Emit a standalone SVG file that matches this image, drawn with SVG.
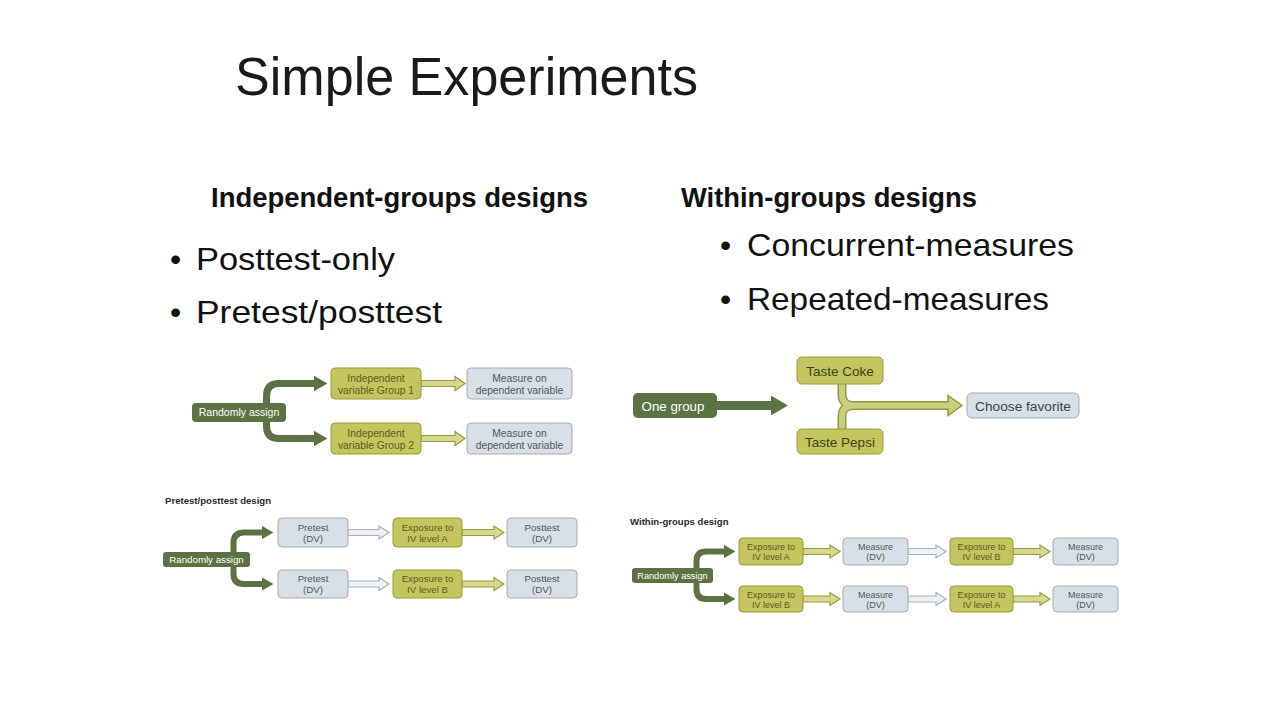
<svg xmlns="http://www.w3.org/2000/svg" width="1280" height="720" viewBox="0 0 1280 720">
<style>
  .sans { font-family: "Liberation Sans", Arial, sans-serif; }
  .title { font-size: 54px; fill: #1a1a1a; }
  .head { font-size: 28px; font-weight: bold; fill: #111; }
  .bul { font-size: 32px; fill: #111; }
  .dg { fill: #5b7342; }
  .ol { fill: #c4c55e; stroke: #969b3a; stroke-width: 1; }
  .bl { fill: #d6e0e6; stroke: #a3adb3; stroke-width: 1; }
  .tw { fill: #ffffff; }
  .to { fill: #5c5b22; }
  .tb { fill: #50565a; }
  .ha-o { fill: #d4d98f; stroke: #939c3e; stroke-width: 1.2; }
  .ha-g { fill: #eef1f3; stroke: #a7b0b6; stroke-width: 1.2; }
  .br { fill: none; stroke: #5b7342; marker-end: url(#ah); }
  .cap { font-size: 9.6px; font-weight: bold; fill: #2a2a2a; }
</style>
<defs>
  <marker id="ah" viewBox="0 0 1.9 2.2" refX="0" refY="1.1" markerWidth="1.9" markerHeight="2.2" orient="auto">
    <path d="M0,0 L1.9,1.1 L0,2.2 Z" fill="#5b7342"/>
  </marker>
</defs>
<rect width="1280" height="720" fill="#ffffff"/>

<g id="slide-text" class="sans">
  <text class="title" x="235" y="95" textLength="463" lengthAdjust="spacingAndGlyphs">Simple Experiments</text>
  <text class="head" x="211" y="207" textLength="377" lengthAdjust="spacingAndGlyphs">Independent-groups designs</text>
  <text class="head" x="681" y="207" textLength="296" lengthAdjust="spacingAndGlyphs">Within-groups designs</text>
  <text class="bul" x="170" y="270">•</text>
  <text class="bul" x="196" y="270" textLength="199" lengthAdjust="spacingAndGlyphs">Posttest-only</text>
  <text class="bul" x="170" y="323">•</text>
  <text class="bul" x="196" y="323" textLength="246" lengthAdjust="spacingAndGlyphs">Pretest/posttest</text>
  <text class="bul" x="720" y="256">•</text>
  <text class="bul" x="747" y="256" textLength="327" lengthAdjust="spacingAndGlyphs">Concurrent-measures</text>
  <text class="bul" x="720" y="310">•</text>
  <text class="bul" x="747" y="310" textLength="302" lengthAdjust="spacingAndGlyphs">Repeated-measures</text>
</g>

<g id="connectors">
  <!-- Diagram 1: posttest-only -->
  <path class="br" stroke-width="7" d="M266.5,403 V396 Q266.5,383.5 279,383.5 H314"/>
  <path class="br" stroke-width="7" d="M266.5,422 V426 Q266.5,438.5 279,438.5 H314"/>
  <polygon class="ha-o" points="421,380.5 455,380.5 455,376.5 465,383.5 455,390.5 455,386.5 421,386.5"/>
  <polygon class="ha-o" points="421,435.5 455,435.5 455,431.5 465,438.5 455,445.5 455,441.5 421,441.5"/>

  <!-- Diagram 2: concurrent measures -->
  <path class="br" stroke-width="9" d="M717,405.5 H771"/>
  <path fill="none" stroke="#8f9a3a" stroke-width="9" d="M842,384 V394 Q842,405.5 853.5,405.5 H950 M842,429 V417 Q842,405.5 853.5,405.5"/>
  <polygon points="948,395.5 962,405.5 948,415.5" fill="#c9cf7e" stroke="#8f9a3a" stroke-width="1.5"/>
  <path fill="none" stroke="#c9cf7e" stroke-width="6" d="M842,383 V394 Q842,405.5 853.5,405.5 H950 M842,430 V417 Q842,405.5 853.5,405.5"/>

  <!-- Diagram 3: pretest/posttest -->
  <path class="br" stroke-width="6" d="M233.5,552 V543 Q233.5,532.5 244,532.5 H262"/>
  <path class="br" stroke-width="6" d="M233.5,567 V574 Q233.5,584 244,584 H262"/>
  <polygon class="ha-g" points="348,529.5 379,529.5 379,526 389,532.5 379,539 379,535.5 348,535.5"/>
  <polygon class="ha-g" points="348,581 379,581 379,577.5 389,584 379,590.5 379,587 348,587"/>
  <polygon class="ha-o" points="462,529.5 494,529.5 494,526 504,532.5 494,539 494,535.5 462,535.5"/>
  <polygon class="ha-o" points="462,581 494,581 494,577.5 504,584 494,590.5 494,587 462,587"/>

  <!-- Diagram 4: repeated measures -->
  <path class="br" stroke-width="6" d="M696.5,568 V561 Q696.5,551.5 706,551.5 H724"/>
  <path class="br" stroke-width="6" d="M696.5,583 V589 Q696.5,599 706,599 H724"/>
  <polygon class="ha-o" points="803,548.5 830,548.5 830,545 840,551.5 830,558 830,554.5 803,554.5"/>
  <polygon class="ha-g" points="908,548.5 936,548.5 936,545 946,551.5 936,558 936,554.5 908,554.5"/>
  <polygon class="ha-o" points="1013,548.5 1040,548.5 1040,545 1050,551.5 1040,558 1040,554.5 1013,554.5"/>
  <polygon class="ha-o" points="803,596 830,596 830,592.5 840,599 830,605.5 830,602 803,602"/>
  <polygon class="ha-g" points="908,596 936,596 936,592.5 946,599 936,605.5 936,602 908,602"/>
  <polygon class="ha-o" points="1013,596 1040,596 1040,592.5 1050,599 1040,605.5 1040,602 1013,602"/>
</g>

<!-- Diagram 1 nodes -->
<g id="d1-random" class="sans">
  <rect class="dg" x="192" y="403" width="94" height="19" rx="4"/>
  <text class="tw" x="239" y="416" font-size="10.5" text-anchor="middle">Randomly assign</text>
</g>
<g id="d1-iv1" class="sans">
  <rect class="ol" x="331" y="368" width="90" height="31" rx="4"/>
  <text class="to" x="376" y="382" font-size="10.3" text-anchor="middle">Independent</text>
  <text class="to" x="376" y="394" font-size="10.3" text-anchor="middle">variable Group 1</text>
</g>
<g id="d1-dv1" class="sans">
  <rect class="bl" x="467" y="368" width="105" height="31" rx="4"/>
  <text class="tb" x="519.5" y="382" font-size="10.3" text-anchor="middle">Measure on</text>
  <text class="tb" x="519.5" y="394" font-size="10.3" text-anchor="middle">dependent variable</text>
</g>
<g id="d1-iv2" class="sans">
  <rect class="ol" x="331" y="423" width="90" height="31" rx="4"/>
  <text class="to" x="376" y="437" font-size="10.3" text-anchor="middle">Independent</text>
  <text class="to" x="376" y="449" font-size="10.3" text-anchor="middle">variable Group 2</text>
</g>
<g id="d1-dv2" class="sans">
  <rect class="bl" x="467" y="423" width="105" height="31" rx="4"/>
  <text class="tb" x="519.5" y="437" font-size="10.3" text-anchor="middle">Measure on</text>
  <text class="tb" x="519.5" y="449" font-size="10.3" text-anchor="middle">dependent variable</text>
</g>

<!-- Diagram 2 nodes -->
<g id="d2-group" class="sans">
  <rect class="dg" x="633" y="393" width="84" height="25" rx="5"/>
  <text class="tw" x="673" y="410.5" font-size="13.3" text-anchor="middle">One group</text>
</g>
<g id="d2-coke" class="sans">
  <rect class="ol" x="797" y="357" width="86" height="27" rx="5"/>
  <text x="840" y="375.5" font-size="13.5" text-anchor="middle" fill="#3f3e1a">Taste Coke</text>
</g>
<g id="d2-pepsi" class="sans">
  <rect class="ol" x="797" y="429" width="86" height="25" rx="5"/>
  <text x="840" y="446.5" font-size="13.5" text-anchor="middle" fill="#3f3e1a">Taste Pepsi</text>
</g>
<g id="d2-choose" class="sans">
  <rect class="bl" x="967" y="393" width="112" height="25" rx="5"/>
  <text x="1023" y="410.5" font-size="13.7" text-anchor="middle" fill="#3e4346">Choose favorite</text>
</g>

<!-- Diagram 3 nodes -->
<g id="d3-caption" class="sans">
  <text class="cap" x="165" y="504">Pretest/posttest design</text>
</g>
<g id="d3-random" class="sans">
  <rect class="dg" x="163" y="552" width="87" height="15" rx="3"/>
  <text class="tw" x="206.5" y="563.3" font-size="9.7" text-anchor="middle">Randomly assign</text>
</g>
<g id="d3-pre1" class="sans">
  <rect class="bl" x="278" y="518" width="70" height="29" rx="4"/>
  <text class="tb" x="313" y="531" font-size="9.7" text-anchor="middle">Pretest</text>
  <text class="tb" x="313" y="541.5" font-size="9.7" text-anchor="middle">(DV)</text>
</g>
<g id="d3-exp1" class="sans">
  <rect class="ol" x="393" y="518" width="69" height="29" rx="4"/>
  <text class="to" x="427.5" y="531" font-size="9.7" text-anchor="middle">Exposure to</text>
  <text class="to" x="427.5" y="541.5" font-size="9.7" text-anchor="middle">IV level A</text>
</g>
<g id="d3-post1" class="sans">
  <rect class="bl" x="507" y="518" width="70" height="29" rx="4"/>
  <text class="tb" x="542" y="531" font-size="9.7" text-anchor="middle">Posttest</text>
  <text class="tb" x="542" y="541.5" font-size="9.7" text-anchor="middle">(DV)</text>
</g>
<g id="d3-pre2" class="sans">
  <rect class="bl" x="278" y="570" width="70" height="28" rx="4"/>
  <text class="tb" x="313" y="582" font-size="9.7" text-anchor="middle">Pretest</text>
  <text class="tb" x="313" y="592.5" font-size="9.7" text-anchor="middle">(DV)</text>
</g>
<g id="d3-exp2" class="sans">
  <rect class="ol" x="393" y="570" width="69" height="28" rx="4"/>
  <text class="to" x="427.5" y="582" font-size="9.7" text-anchor="middle">Exposure to</text>
  <text class="to" x="427.5" y="592.5" font-size="9.7" text-anchor="middle">IV level B</text>
</g>
<g id="d3-post2" class="sans">
  <rect class="bl" x="507" y="570" width="70" height="28" rx="4"/>
  <text class="tb" x="542" y="582" font-size="9.7" text-anchor="middle">Posttest</text>
  <text class="tb" x="542" y="592.5" font-size="9.7" text-anchor="middle">(DV)</text>
</g>

<!-- Diagram 4 nodes -->
<g id="d4-caption" class="sans">
  <text class="cap" x="630" y="525" font-size="8.8">Within-groups design</text>
</g>
<g id="d4-random" class="sans">
  <rect class="dg" x="632" y="568" width="81" height="15" rx="3"/>
  <text class="tw" x="672.5" y="579.3" font-size="9.2" text-anchor="middle">Randomly assign</text>
</g>
<g id="d4-expA1" class="sans">
  <rect class="ol" x="739" y="538" width="64" height="27" rx="4"/>
  <text class="to" x="771" y="550" font-size="9" text-anchor="middle">Exposure to</text>
  <text class="to" x="771" y="560" font-size="9" text-anchor="middle">IV level A</text>
</g>
<g id="d4-m1" class="sans">
  <rect class="bl" x="843" y="538" width="65" height="27" rx="4"/>
  <text class="tb" x="875.5" y="550" font-size="9" text-anchor="middle">Measure</text>
  <text class="tb" x="875.5" y="560" font-size="9" text-anchor="middle">(DV)</text>
</g>
<g id="d4-expB1" class="sans">
  <rect class="ol" x="950" y="538" width="63" height="27" rx="4"/>
  <text class="to" x="981.5" y="550" font-size="9" text-anchor="middle">Exposure to</text>
  <text class="to" x="981.5" y="560" font-size="9" text-anchor="middle">IV level B</text>
</g>
<g id="d4-m2" class="sans">
  <rect class="bl" x="1053" y="538" width="65" height="27" rx="4"/>
  <text class="tb" x="1085.5" y="550" font-size="9" text-anchor="middle">Measure</text>
  <text class="tb" x="1085.5" y="560" font-size="9" text-anchor="middle">(DV)</text>
</g>
<g id="d4-expB2" class="sans">
  <rect class="ol" x="739" y="586" width="64" height="26" rx="4"/>
  <text class="to" x="771" y="597.5" font-size="9" text-anchor="middle">Exposure to</text>
  <text class="to" x="771" y="607.5" font-size="9" text-anchor="middle">IV level B</text>
</g>
<g id="d4-m3" class="sans">
  <rect class="bl" x="843" y="586" width="65" height="26" rx="4"/>
  <text class="tb" x="875.5" y="597.5" font-size="9" text-anchor="middle">Measure</text>
  <text class="tb" x="875.5" y="607.5" font-size="9" text-anchor="middle">(DV)</text>
</g>
<g id="d4-expA2" class="sans">
  <rect class="ol" x="950" y="586" width="63" height="26" rx="4"/>
  <text class="to" x="981.5" y="597.5" font-size="9" text-anchor="middle">Exposure to</text>
  <text class="to" x="981.5" y="607.5" font-size="9" text-anchor="middle">IV level A</text>
</g>
<g id="d4-m4" class="sans">
  <rect class="bl" x="1053" y="586" width="65" height="26" rx="4"/>
  <text class="tb" x="1085.5" y="597.5" font-size="9" text-anchor="middle">Measure</text>
  <text class="tb" x="1085.5" y="607.5" font-size="9" text-anchor="middle">(DV)</text>
</g>
</svg>
